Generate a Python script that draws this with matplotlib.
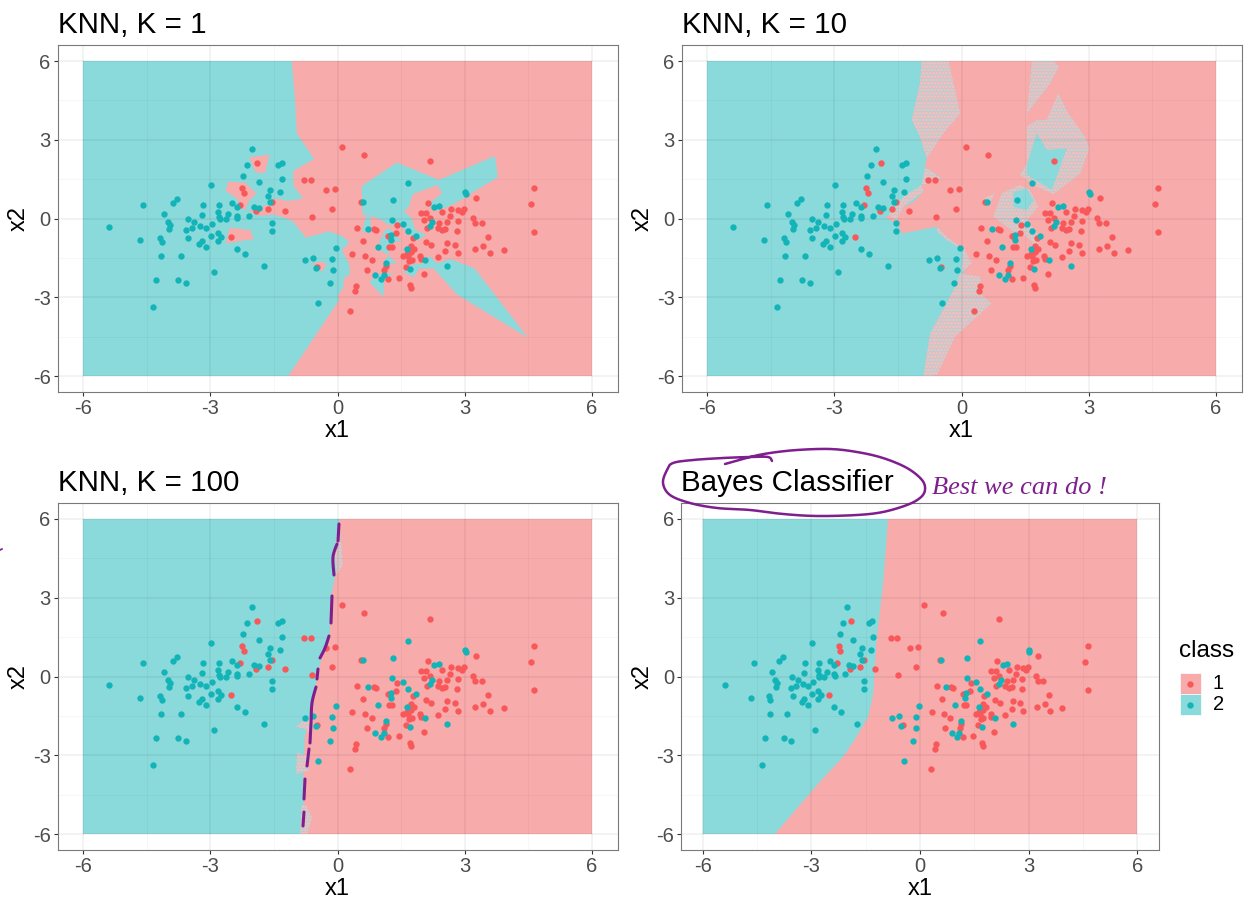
import numpy as np
import matplotlib
matplotlib.use("Agg")
import matplotlib.pyplot as plt
from matplotlib.patches import Polygon, Rectangle

plt.rcParams['font.family'] = ['Liberation Sans', 'DejaVu Sans']
plt.rcParams['hatch.linewidth'] = 0.8

# points
x1_red = [-1.90,-2.25,-2.21,-2.29,-1.545,-1.92,-1.65,-1.24,-2.51,-0.79,-0.63,-0.27,-0.05,-0.12,-0.61,-0.48,
          0.10,0.63,2.19,4.63,4.56,4.63,3.27,2.13,1.96,2.09,2.46,2.68,2.64,2.85,2.93,2.99,3.20,3.25,3.41,2.83,
          2.57,2.40,2.19,2.03,2.10,2.36,2.47,2.54,2.82,1.40,1.37,1.20,0.47,0.85,0.91,1.77,0.61,1.22,1.28,1.73,
          1.81,2.08,2.20,2.57,2.76,2.53,2.85,3.24,3.44,3.60,3.93,3.55,0.33,0.65,0.82,0.70,1.55,1.67,1.73,1.63,
          1.69,1.75,1.95,1.97,2.36,1.14,1.10,1.61,1.19,1.46,2.03,1.71,1.74,0.44,0.42,0.29,0.55]
x2_red = [2.10,1.15,0.96,0.50,0.63,0.30,0.35,0.29,-0.69,1.48,1.45,1.07,1.14,0.35,0.04,-1.85,
          2.72,2.42,2.18,1.15,0.55,-0.50,0.77,0.60,0.21,0.21,0.26,0.35,0.11,0.32,0.23,0.37,0.03,-0.16,-0.18,-0.11,
          -0.13,-0.18,0.03,-0.07,-0.37,-0.37,-0.45,-0.41,-0.49,-0.26,-0.57,-0.67,-0.35,-0.41,-0.43,-0.76,-0.86,-1.07,-1.07,-1.05,
          -1.16,-0.90,-1.00,-0.95,-1.02,-1.23,-1.33,-1.18,-1.06,-1.33,-1.19,-0.69,-1.37,-1.42,-1.57,-1.96,-1.44,-1.42,-1.29,-1.35,
          -1.63,-1.57,-1.44,-1.53,-1.48,-1.81,-1.96,-1.86,-2.32,-2.27,-2.11,-2.53,-2.65,-2.56,-2.76,-3.51,0.64]
x1_teal = [-2.025,-2.14,-1.41,-1.32,-2.22,-1.31,-1.86,-2.99,-1.59,-1.65,-1.36,-1.59,-3.78,-3.88,-4.58,-3.18,-2.80,-2.48,
           -2.37,-1.96,-1.86,-2.81,-4.08,-3.20,-2.80,-2.78,-2.64,-2.58,-2.38,-2.36,-2.08,-3.53,-3.38,-4.00,-3.96,-3.98,
           -5.39,-3.24,-3.42,-3.09,-2.96,-3.57,-1.55,-1.55,-2.82,-2.99,-2.74,-2.82,-3.52,-3.20,-3.27,-3.09,-4.18,-4.13,
           -4.66,-4.15,-3.68,-2.37,-2.19,-1.74,-2.90,-4.29,-3.76,-3.56,-4.35,-0.76,-0.585,-0.515,-0.12,-0.035,-0.10,-0.18,
           -0.45,1.655,0.59,1.30,3.01,3.02,2.28,2.39,1.29,1.55,2.23,2.19,0.73,1.655,1.84,1.26,1.25,0.96,1.64,2.07,1.14,
           1.72,2.57,0.89,1.09,1.03]
x2_teal = [2.65,2.05,2.03,2.11,1.63,1.49,1.39,1.26,1.09,0.87,1.00,0.63,0.74,0.60,0.50,0.53,0.53,0.59,
           0.43,0.44,0.39,0.26,0.18,0.13,0.04,0.00,0.00,0.18,0.10,0.02,0.08,-0.01,-0.13,-0.15,-0.26,-0.39,
           -0.34,-0.30,-0.35,-0.36,-0.22,-0.45,-0.18,-0.49,-0.54,-0.67,-0.70,-0.85,-0.74,-0.85,-0.97,-1.09,-0.76,-0.91,
           -0.81,-1.44,-1.42,-1.16,-1.37,-1.82,-2.05,-2.34,-2.36,-2.46,-3.37,-1.58,-1.50,-1.87,-1.53,-1.12,-1.95,-2.47,
           -3.20,1.36,0.64,0.69,1.02,0.92,0.45,0.48,-0.06,-0.22,-0.12,-0.27,-0.40,-0.48,-0.68,-0.62,-0.83,-1.10,-1.15,-1.59,-1.70,
           -1.94,-1.81,-2.14,-2.14,-2.30]

ticks = [-6, -3, 0, 3, 6]
minor = [-4.5, -1.5, 1.5, 4.5]
tick_labels = ['-6', '-3', '0', '3', '6']
titles = ['KNN, K = 1', 'KNN, K = 10', 'KNN, K = 100', 'Bayes Classifier']
classes = ['1', '2']

# decision regions
k1_teal = [
    [(-1.08,6),(-1.0,4.5),(-0.96,3.24),(-0.55,2.27),(-1.04,1.82),(-1.04,1.24),(-0.81,0.77),(-1.16,0.67),(-1.47,0.77),
     (-1.55,0.52),(-1.83,0.45),(-2.1,0.28),(-1.83,0.1),(-1.5,0.15),(-1.2,0.0),(-1.04,-0.12),(-0.75,-0.73),(-0.19,-0.49),
     (0.14,-0.69),(0.28,-0.92),(0.10,-1.2),(0.28,-1.77),(0.29,-2.13),(0.15,-2.28),(0.14,-2.6),(0,-2.98),(0.04,-3.1),
     (-1.16,-6),(-6,-6),(-6,6)],
    [(0.57,1.24),(1.40,2.13),(2.39,1.47),(3.71,2.38),(3.78,1.57),(3.28,1.09),(2.95,0.74),(2.61,0.45),(2.34,0.30),(2.10,0.51),
     (2.47,0.96),(2.35,1.28),(1.77,0.92),(1.67,0.39),(1.55,0.29),(1.75,0.01),(1.83,-0.44),(2.10,-0.63),(1.85,-0.84),(1.67,-0.59),
     (1.49,-0.21),(1.20,-0.25),(1.04,-0.06),(0.77,0.11),(0.59,0.13)],
    [(0.67,0.07),(0.78,0.11),(0.78,-0.5),(0.57,-0.5)],
    [(1.12,-0.44),(1.24,-0.38),(1.51,-0.88),(1.25,-0.86),(1.2,-1.4),(1.0,-1.2),(0.99,-0.88)],
    [(1.07,-1.71),(1.2,-1.42),(1.41,-1.71)],
    [(0.75,-2.41),(1.0,-2.11),(1.32,-2.09),(1.10,-2.34),(1.08,-2.98)],
    [(1.51,-1.2),(1.67,-1.04),(1.75,-1.24)],
    [(1.55,-2.03),(1.79,-2.24),(1.93,-1.90),(2.26,-1.90),(2.83,-2.91),(4.48,-4.53),(3.23,-1.90),(2.65,-1.54),(2.34,-1.71),
     (2.18,-1.43),(2.01,-1.71),(1.73,-1.77)],
]
k1_red = [
    [(-2.08,2.33),(-1.6,2.43),(-1.71,1.73),(-1.93,1.76)],
    [(-2.575,1.40),(-2.18,1.37),(-1.91,0.96),(-2.10,0.64),(-2.18,0.29),(-2.38,0.77),(-2.64,1.06)],
    [(-2.54,-0.35),(-2.06,-0.44),(-1.97,-0.78),(-2.64,-0.95)],
    [(-0.60,-1.71),(-0.36,-1.64),(-0.26,-1.77),(-0.37,-2.03),(-0.49,-1.86)],
]
k10_teal = [
    [(-0.94,6),(-0.98,5.15),(-1.17,3.75),(-0.98,3.1),(-0.82,2.29),(-0.86,1.97),(-0.47,1.53),(-0.94,1.28),(-0.9,1.02),(-1.13,0.64),
     (-1.37,0.45),(-1.53,0.2),(-1.80,0.07),(-1.49,-0.25),(-1.41,-0.57),(-0.58,-0.31),(-0.35,-0.69),(0.04,-1.2),(0.2,-1.71),
     (-0.03,-2.22),(-0.23,-2.85),(-0.74,-4.38),(-0.9,-6),(-6,-6),(-6,6)],
]
k10_stipple = [
    [(-0.94,6),(-0.31,6),(-0.15,4.9),(-0.03,4.0),(-0.43,3.24),(-0.82,2.29),(-0.98,3.1),(-1.17,3.75),(-0.98,5.15)],
    [(-0.94,1.28),(-0.9,1.02),(-1.37,0.45),(-1.53,-0.06),(-1.72,0.13),(-1.37,0.83)],
    [(-0.86,1.97),(-0.47,1.53),(-0.94,1.28)],
    [(-0.58,-0.31),(-0.35,-0.69),(0.08,-1.2),(0.24,-1.71),(0.0,-2.05),(0.04,-1.2),(-0.35,-0.82),(-0.58,-0.5)],
    [(-0.03,-2.09),(0.44,-2.22),(0.48,-2.91),(0.71,-3.23),(-0.15,-4.5),(-0.58,-5.96),(-0.9,-6),(-0.74,-4.38),(-0.23,-2.85)],
    [(1.66,6),(2.17,6),(2.3,5.78),(2.09,5.15),(1.54,4.0),(1.62,5.27)],
    [(2.28,4.77),(2.52,4.0),(2.91,3.12),(3.01,2.67),(2.8,1.72),(2.17,0.93),(1.77,1.21),(1.38,1.66),(1.54,2.1),(1.54,3.5),(1.77,3.75),(2.01,3.75)],
    [(0.75,0.07),(0.95,0.96),(1.38,1.28),(1.62,1.08),(1.81,0.45),(1.54,-0.06),(1.85,-0.69),(1.77,-1.07),(1.54,-0.69),(1.22,-0.5),(1.07,-0.31)],
    [(0.52,0.77),(0.79,0.96),(0.67,0.58)],
]
# solid teal cores that sit inside the stippled patches, drawn after them
k10_core = [
    [(1.77,3.24),(2.01,2.61),(2.48,2.67),(2.13,1.09),(1.54,1.66),(1.54,2.04)],
    [(1.22,1.0),(1.54,1.14),(1.70,0.70),(1.54,0.32),(1.22,0.45)],
]
k100_teal = [[(0.04,6),(0.1,4.69),(-0.06,3.8),(-0.18,2.79),(-0.18,1.64),(-0.37,0.76),(-0.49,-0.13),(-0.61,-1.28),(-0.77,-2.29),
              (-0.81,-3.82),(-0.77,-6),(-6,-6),(-6,6)]]
k100_stipple = [
    [(0.0,5.6),(0.1,5.0),(0.12,4.2),(-0.02,3.9),(-0.08,4.7)],
    [(-0.56,-1.4),(-0.62,-2.1),(-0.98,-1.9)],
    [(-0.72,-3.0),(-0.68,-3.6),(-0.98,-3.7),(-0.95,-2.9)],
    [(-0.74,-4.9),(-0.6,-5.4),(-0.72,-6),(-0.88,-6),(-0.85,-4.9)],
]
bayes_teal = [[(-0.885,6),(-1.01,3.68),(-1.2,1.39),(-1.29,-0.64),(-1.43,-1.53),(-1.75,-2.29),(-2.12,-3.05),(-2.72,-3.94),
               (-4.01,-6),(-6,-6),(-6,6)]]

# handwriting, in picture pixels
ring_px = [(725,464),(750,457),(770,453),(797,450),(830,449),(857,452),(883,458),(907,468),(922,480),(925,490),(920,498),
           (907,505),(883,512),(857,515),(817,516),(783,514),(750,510),(717,508),(690,503),(670,495),(663,483),(667,470),
           (673,463),(693,460),(723,458),(750,457),(768,457),(772,461)]
dash_px = [
    [(339,524),(338,541)], [(337,544),(333,557),(334,575)], [(332,596),(331,623)], [(329,636),(325,648),(320,658)],
    [(318,669),(317,679)], [(316,687),(312,703),(311,723),(310,743)], [(309,749),(307,766)], [(305,779),(304,799)],
    [(304,812),(303,826)],
]

RED = '#F8585A'
TEAL = '#12B4B8'
RED_FILL = '#F8ABAB'
TEAL_FILL = '#8AD9DB'
PURPLE = '#7E1F8E'


def smooth(pts, n=12):
    # catmull-rom through the hand drawn points
    p = np.array([pts[0]] + pts + [pts[-1]], dtype=float)
    out = []
    for i in range(1, len(p) - 2):
        for t in np.linspace(0, 1, n, endpoint=False):
            out.append(0.5 * (2 * p[i] + (p[i + 1] - p[i - 1]) * t
                              + (2 * p[i - 1] - 5 * p[i] + 4 * p[i + 1] - p[i + 2]) * t ** 2
                              + (3 * p[i] - p[i - 1] - 3 * p[i + 1] + p[i + 2]) * t ** 3))
    out.append(p[-2])
    return np.array(out)


def panel(fig, box, title, teal, red=(), stipple=(), core=()):
    l, t, r, b = box
    ax = fig.add_axes([l / 1244, 1 - b / 899, (r - l) / 1244, (b - t) / 899])
    ax.set_xlim(-6.6, 6.6)
    ax.set_ylim(-6.6, 6.6)
    ax.add_patch(Rectangle((-6, -6), 12, 12, fc=RED_FILL, ec='none'))
    for poly in teal:
        ax.add_patch(Polygon(poly, fc=TEAL_FILL, ec='none'))
    for poly in red:
        ax.add_patch(Polygon(poly, fc=RED_FILL, ec='none'))
    for poly in stipple:
        ax.add_patch(Polygon(poly, fc='#B4CFD2', ec='#F6BDBD', lw=0, hatch='ooooo'))
    for poly in core:
        ax.add_patch(Polygon(poly, fc=TEAL_FILL, ec='none'))
    ax.set_xticks(ticks, tick_labels)
    ax.set_yticks(ticks, tick_labels)
    ax.set_xticks(minor, minor=True)
    ax.set_yticks(minor, minor=True)
    ax.grid(which='major', color='k', alpha=0.06, lw=1.1)
    ax.grid(which='minor', color='k', alpha=0.04, lw=0.6)
    ax.tick_params(which='minor', length=0)
    ax.tick_params(which='major', length=3, width=0.8, color='#333333', labelcolor='#4D4D4D', labelsize=14.5, pad=2)
    for s in ax.spines.values():
        s.set_color('#7A7A7A')
        s.set_linewidth(0.8)
    ax.scatter(x1_red, x2_red, s=21, c=RED, lw=0, zorder=3)
    ax.scatter(x1_teal, x2_teal, s=21, c=TEAL, lw=0, zorder=3)
    ax.set_xlabel('x1', fontsize=17, labelpad=2)
    ax.set_ylabel('x2', fontsize=17, labelpad=2)
    ax.set_title(title, loc='left', fontsize=21.3, pad=8.5)
    return ax


fig = plt.figure(figsize=(12.44, 8.99), dpi=100)
panel(fig, (57.5, 45.25, 617.5, 391.75), titles[0], k1_teal, red=k1_red)
panel(fig, (681.5, 45.25, 1241.5, 391.75), titles[1], k10_teal, stipple=k10_stipple, core=k10_core)
panel(fig, (57.5, 503.25, 617.5, 849.75), titles[2], k100_teal, stipple=k100_stipple)
panel(fig, (681, 503.25, 1159, 849.75), titles[3], bayes_teal)

# overlay in pixels for the legend and the pen marks
ov = fig.add_axes([0, 0, 1, 1], zorder=10)
ov.set_xlim(0, 1244)
ov.set_ylim(899, 0)
ov.axis('off')
ov.patch.set_alpha(0)

ov.text(1179, 651, 'class', fontsize=17.5, va='center', color='black')
for i, (lab, fill, col) in enumerate(zip(classes, [RED_FILL, TEAL_FILL], [RED, TEAL])):
    ov.add_patch(Rectangle((1179.5, 673 + 21 * i), 21, 21, fc=fill, ec='white', lw=0.5))
    ov.scatter([1190], [683.5 + 21 * i], s=21, c=col, lw=0)
    ov.text(1213, 683.5 + 21 * i, lab, fontsize=14.5, va='center', color='black')

ring = smooth(ring_px)
ov.plot(ring[:, 0], ring[:, 1], color=PURPLE, lw=1.8, solid_capstyle='round')
for seg in dash_px:
    d = smooth(seg)
    ov.plot(d[:, 0], d[:, 1], color=PURPLE, lw=2.2, solid_capstyle='round')
ov.plot([0, 2], [550, 549], color=PURPLE, lw=1.2)
ov.text(932, 494, 'Best we can do !', fontsize=19, style='italic', family='Liberation Serif', color=PURPLE)

fig.savefig('out.png', dpi=100)
